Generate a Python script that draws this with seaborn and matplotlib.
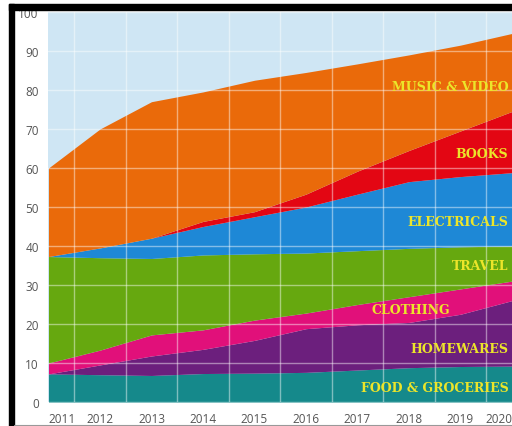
import numpy as np
import pandas as pd
import matplotlib
matplotlib.use("Agg")
import matplotlib.pyplot as plt
import seaborn as sns
from matplotlib.ticker import FixedLocator

# Share of sales online (%)
years = [2011, 2012, 2013, 2014, 2015, 2016, 2017, 2018, 2019, 2020]
food = [7.2, 7.0, 6.8, 7.3, 7.4, 7.6, 8.2, 8.8, 9.1, 9.2]
homewares = [0.0, 2.5, 5.0, 6.2, 8.4, 11.2, 11.6, 11.6, 13.4, 16.8]
clothing = [2.8, 3.8, 5.4, 5.0, 5.2, 4.0, 5.2, 6.6, 6.5, 5.0]
travel = [27.3, 23.7, 19.6, 19.2, 17.0, 15.4, 13.8, 12.4, 10.8, 9.0]
electricals = [0.0, 2.5, 5.2, 7.3, 9.5, 11.8, 14.5, 17.1, 18.0, 18.8]
books = [0.0, 0.0, 0.0, 1.3, 1.3, 3.3, 5.9, 8.0, 11.7, 15.7]
music = [22.7, 30.5, 35.0, 33.2, 33.7, 31.2, 27.5, 24.5, 22.0, 20.0]

categories = ["FOOD & GROCERIES", "HOMEWARES", "CLOTHING", "TRAVEL",
              "ELECTRICALS", "BOOKS", "MUSIC & VIDEO"]

df = pd.DataFrame({
    "Year": years,
    "FOOD & GROCERIES": food,
    "HOMEWARES": homewares,
    "CLOTHING": clothing,
    "TRAVEL": travel,
    "ELECTRICALS": electricals,
    "BOOKS": books,
    "MUSIC & VIDEO": music,
})

colors = ["#15898b", "#6c1f7d", "#e1107a", "#66a80f",
          "#1e88d6", "#e30613", "#ea6a0a"]

sns.set_style("white")
plt.rcParams["font.family"] = ["Open Sans", "DejaVu Sans"]

fig = plt.figure(figsize=(5.12, 4.27), dpi=100)
ax = fig.add_axes([0.0947, 0.0562, 0.9053, 0.9134])

ax.stackplot(df["Year"], [df[c] for c in categories], colors=colors,
             linewidth=0)

ax.set_xlim(2011, 2020)
ax.set_ylim(0, 100)
ax.set_facecolor("#cfe6f4")
sns.despine(ax=ax, left=True, bottom=True)

ax.set_yticks(range(0, 101, 10))
ax.set_xticks(years)
ax.xaxis.set_minor_locator(FixedLocator([y + 0.5 for y in years[:-1]]))
ax.tick_params(axis="both", which="both", length=0, labelsize=8.5,
               colors="#555555", pad=7)

xlabels = ax.get_xticklabels()
xlabels[0].set_ha("left")
xlabels[-1].set_ha("right")

ax.set_axisbelow(False)
ax.grid(axis="y", which="major", color="white", alpha=0.45, lw=1)
ax.grid(axis="x", which="minor", color="white", alpha=0.45, lw=1)
ax.grid(axis="x", which="major", visible=False)

# labels inside the bands
label_pos = {
    "MUSIC & VIDEO": (2019.93, 80.8),
    "BOOKS": (2019.93, 63.6),
    "ELECTRICALS": (2019.93, 46.4),
    "TRAVEL": (2019.93, 35.1),
    "CLOTHING": (2018.8, 23.6),
    "HOMEWARES": (2019.93, 13.8),
    "FOOD & GROCERIES": (2019.93, 3.6),
}
for name, (x, y) in label_pos.items():
    ax.text(x, y, name, ha="right", va="center", color="#ece52a",
            fontsize=9, fontweight="bold", family="DejaVu Serif")

# black frame of the screenshot
fig.add_artist(plt.Rectangle((9 / 512, 0), 5 / 512, 422 / 427,
                             transform=fig.transFigure, color="black",
                             zorder=10))
fig.add_artist(plt.Rectangle((9 / 512, 416 / 427), 503 / 512, 6 / 427,
                             transform=fig.transFigure, color="black",
                             zorder=10))
fig.add_artist(plt.Line2D([14 / 512, 1], [1.5 / 427, 1.5 / 427],
                          transform=fig.transFigure, color="#999999",
                          lw=0.8, zorder=10))

fig.savefig("out.png", dpi=100)
